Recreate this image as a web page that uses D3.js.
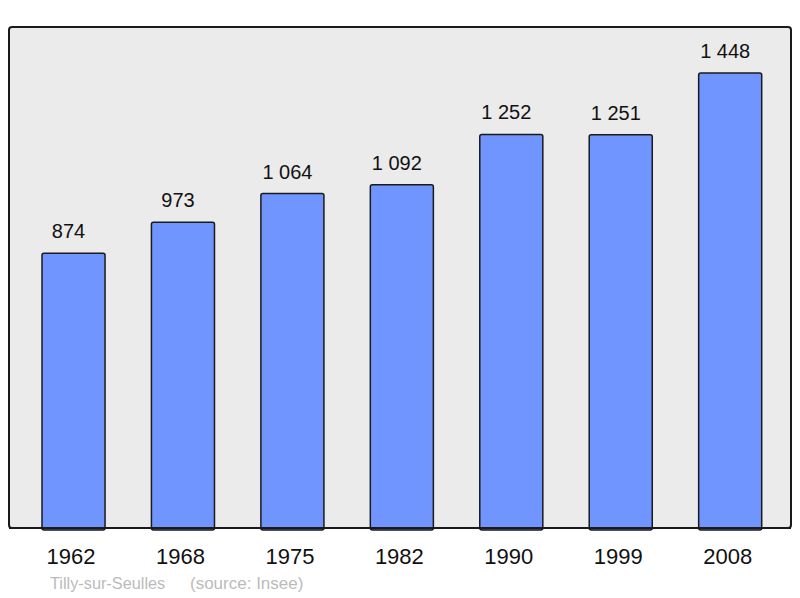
<!DOCTYPE html>
<html>
  <head>
    <meta http-equiv="Content-Type" content="text/html;charset=utf-8">
    <script src="https://d3js.org/d3.v7.min.js"></script>
    <style>
      body { margin: 0; background: #fff; }
      text { font-family: "Liberation Sans", Arial, sans-serif; }
    </style>
  </head>
  <body>
    <svg id="chart" width="800" height="598"></svg>
    <script type="text/javascript">

var years = ["1962", "1968", "1975", "1982", "1990", "1999", "2008"];
var population = [874, 973, 1064, 1092, 1252, 1251, 1448];
var valueLabels = ["874", "973", "1 064", "1 092", "1 252", "1 251", "1 448"];
var townName = "Tilly-sur-Seulles";
var sourceNote = "(source: Insee)";

var svg = d3.select("#chart");

// plot frame
svg.append("rect")
    .attr("x", 9).attr("y", 27)
    .attr("width", 782).attr("height", 501)
    .attr("rx", 3).attr("ry", 3)
    .style("fill", "#ebebeb")
    .style("stroke", "#1a1a1a")
    .style("stroke-width", 2);

var x = d3.scaleBand()
    .domain(years)
    .range([42, 761.7])
    .paddingInner(0.424)
    .paddingOuter(0);

var y = d3.scaleLinear()
    .domain([0, 1594])
    .range([528, 27]);

var data = years.map(function (yr, i) {
    return { year: yr, value: population[i], label: valueLabels[i] };
});

svg.selectAll("rect.bar")
    .data(data)
    .enter().append("rect")
    .attr("class", "bar")
    .attr("x", function (d) { return x(d.year); })
    .attr("y", function (d) { return y(d.value); })
    .attr("width", x.bandwidth())
    .attr("height", function (d) { return 528 - y(d.value) + 2; })
    .attr("rx", 2).attr("ry", 2)
    .style("fill", "#7095ff")
    .style("stroke", "#1a1a1a")
    .style("stroke-width", 1.5);

// redraw bottom edge of frame over the bars
svg.append("line")
    .attr("x1", 9).attr("x2", 791)
    .attr("y1", 528).attr("y2", 528)
    .style("stroke", "#1a1a1a")
    .style("stroke-width", 2);

// value labels sit a little left of the bar centre
svg.selectAll("text.val")
    .data(data)
    .enter().append("text")
    .attr("class", "val")
    .attr("x", function (d) { return x(d.year) + x.bandwidth() / 2 - 5; })
    .attr("y", function (d) { return y(d.value) - 15; })
    .attr("text-anchor", "middle")
    .style("font-size", "20px")
    .style("fill", "#111")
    .text(function (d) { return d.label; });

var xAxis = svg.append("g")
    .attr("transform", "translate(-2.5,528)")
    .call(d3.axisBottom(x).tickSize(0).tickPadding(0));
xAxis.select(".domain").remove();
xAxis.selectAll("text")
    .attr("y", 36)
    .attr("dy", 0)
    .style("font-family", "'Liberation Sans', Arial, sans-serif")
    .style("font-size", "22px")
    .style("fill", "#111");

svg.append("text")
    .attr("x", 50).attr("y", 589)
    .style("font-size", "16.3px")
    .style("fill", "#bbbbbb")
    .text(townName);

svg.append("text")
    .attr("x", 190).attr("y", 589)
    .style("font-size", "17px")
    .style("fill", "#bbbbbb")
    .text(sourceNote);

    </script>
  </body>
</html>
